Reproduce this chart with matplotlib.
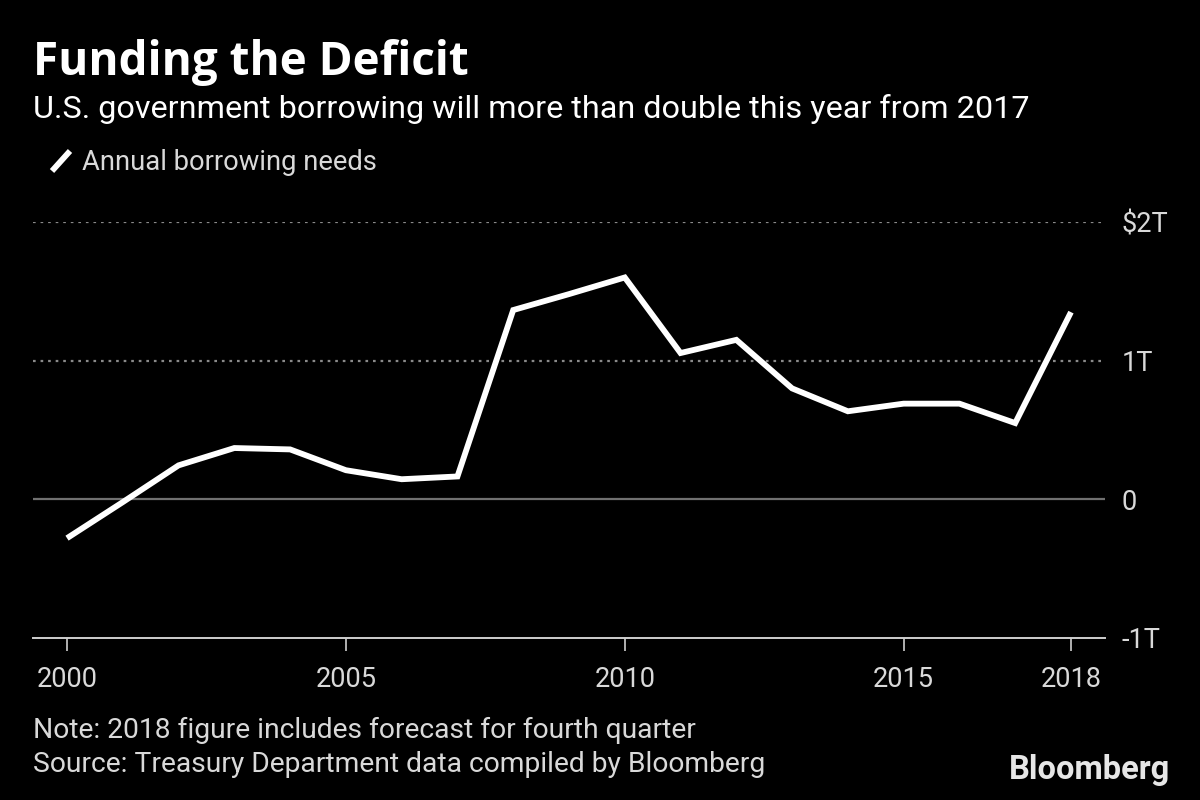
import matplotlib
matplotlib.use("Agg")
import matplotlib.pyplot as plt
from matplotlib.lines import Line2D

# data (trillions of dollars)
years = [2000, 2001, 2002, 2003, 2004, 2005, 2006, 2007, 2008, 2009,
         2010, 2011, 2012, 2013, 2014, 2015, 2016, 2017, 2018]
borrowing = [-0.28, -0.02, 0.245, 0.37, 0.36, 0.21, 0.145, 0.165, 1.365, 1.48,
             1.60, 1.055, 1.15, 0.80, 0.635, 0.69, 0.69, 0.55, 1.35]
x_ticks = [2000, 2005, 2010, 2015, 2018]
y_ticks = [-1, 0, 1, 2]
y_labels = ["-1T", "0", "1T", "$2T"]

BODY = ["Roboto", "DejaVu Sans"]
TITLE = ["Open Sans", "DejaVu Sans"]
GREY = "#d9d9d9"

fig = plt.figure(figsize=(12, 8), dpi=100, facecolor="black")
ax = fig.add_axes([33 / 1200, 1 - 638 / 800, (1105 - 33) / 1200, 416 / 800])
ax.set_facecolor("black")

ax.plot(years, borrowing, color="white", lw=4.2, solid_joinstyle="miter",
        solid_capstyle="butt", zorder=3)

ax.set_xlim(1999.39, 2018.61)
ax.set_ylim(-1, 2)

# gridlines
for v in [1, 2]:
    ax.axhline(v, color="#8a8a8a", lw=1.6, ls=(0, (1.2, 2.2)), zorder=1)
ax.axhline(0, color="#707070", lw=1.6, zorder=1)

for s in ["top", "right", "left"]:
    ax.spines[s].set_visible(False)
ax.spines["bottom"].set_color("#cfcfcf")
ax.spines["bottom"].set_linewidth(1.4)

ax.set_xticks(x_ticks)
ax.set_xticklabels([str(y) for y in x_ticks])
ax.tick_params(axis="x", colors="#cfcfcf", length=9, width=1.2, pad=11,
               labelsize=19.5, labelcolor=GREY)
for lab in ax.get_xticklabels():
    lab.set_family(BODY)

ax.yaxis.tick_right()
ax.set_yticks(y_ticks)
ax.set_yticklabels(y_labels)
ax.tick_params(axis="y", length=0, pad=12, labelsize=19.5, labelcolor=GREY)
for lab in ax.get_yticklabels():
    lab.set_family(BODY)

# titles
fig.text(33 / 1200, 1 - 75 / 800, "Funding the Deficit", color="white",
         fontsize=33, fontweight="bold", family=TITLE, va="baseline")
fig.text(33 / 1200, 1 - 118 / 800,
         "U.S. government borrowing will more than double this year from 2017",
         color="white", fontsize=23.3, family=BODY, va="baseline")

# legend
fig.add_artist(Line2D([52 / 1200, 70 / 1200], [1 - 171 / 800, 1 - 151 / 800],
                      color="white", lw=4.2, solid_capstyle="butt"))
fig.text(82 / 1200, 1 - 170 / 800, "Annual borrowing needs", color=GREY,
         fontsize=19.7, family=BODY, va="baseline")

# notes
fig.text(33 / 1200, 1 - 738 / 800,
         "Note: 2018 figure includes forecast for fourth quarter",
         color=GREY, fontsize=20.3, family=BODY, va="baseline")
fig.text(33 / 1200, 1 - 772 / 800,
         "Source: Treasury Department data compiled by Bloomberg",
         color=GREY, fontsize=20.3, family=BODY, va="baseline")
fig.text(1170 / 1200, 1 - 779 / 800, "Bloomberg", color="#e6e6e6",
         fontsize=23.5, fontweight="bold", family=["Roboto", "DejaVu Sans"],
         ha="right", va="baseline")

fig.savefig("out.png", dpi=100, facecolor="black")
